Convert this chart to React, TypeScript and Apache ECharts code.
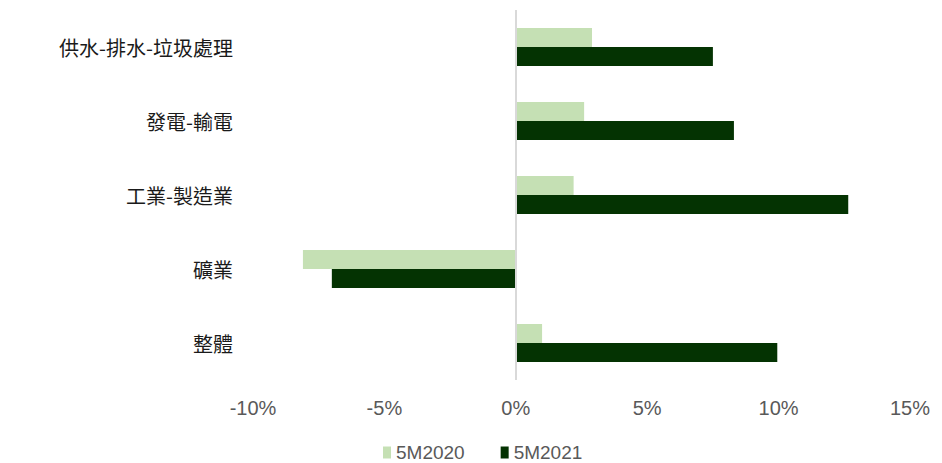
import React, { useEffect, useRef } from "react";
import * as echarts from "echarts";

const categories = ["供水-排水-垃圾處理", "發電-輸電", "工業-製造業", "礦業", "整體"];
const series2020 = [2.9, 2.6, 2.2, -8.1, 1.0];
const series2021 = [7.5, 8.3, 12.65, -7.0, 9.95];
const seriesNames = ["5M2020", "5M2021"];

export default function App() {
  const ref = useRef<HTMLDivElement>(null);
  useEffect(() => {
    if (!ref.current) return;
    const chart = echarts.init(ref.current, null, { renderer: "svg" });
    chart.setOption({
      animation: false,
      backgroundColor: "#ffffff",
      grid: { left: 253, right: 32, top: 10, bottom: 83, containLabel: false },
      legend: {
        data: seriesNames,
        top: 443,
        left: 383,
        padding: 0,
        icon: "rect",
        itemWidth: 8,
        itemHeight: 12,
        itemGap: 36,
        textStyle: { fontFamily: "Liberation Sans", fontSize: 19, color: "#595959" },
      },
      xAxis: {
        type: "value",
        min: -10,
        max: 15,
        interval: 5,
        axisLine: { show: false },
        axisTick: { show: false },
        splitLine: { show: false },
        axisLabel: {
          formatter: (v: number) => `${v}%`,
          fontFamily: "Liberation Sans",
          fontSize: 20,
          color: "#595959",
          margin: 18,
        },
      },
      yAxis: {
        type: "category",
        data: categories,
        inverse: true,
        axisLine: { show: false, onZero: false },
        axisTick: { show: false },
        axisLabel: {
          fontFamily: "Noto Sans CJK TC",
          fontSize: 20,
          color: "#1a1a1a",
          margin: 20,
        },
      },
      series: [
        {
          name: seriesNames[0],
          type: "bar",
          data: series2020,
          barWidth: 19,
          barGap: "0%",
          itemStyle: { color: "#c5e0b4" },
          markLine: {
            silent: true,
            symbol: "none",
            label: { show: false },
            lineStyle: { color: "#d9d9d9", width: 2, type: "solid" },
            data: [{ xAxis: 0 }],
          },
        },
        {
          name: seriesNames[1],
          type: "bar",
          data: series2021,
          barWidth: 19,
          barGap: "0%",
          itemStyle: { color: "#043302" },
        },
      ],
    });
    return () => chart.dispose();
  }, []);
  return (
    <div
      ref={ref}
      style={{ position: "absolute", left: 0, top: 0, width: 942, height: 463 }}
    />
  );
}
